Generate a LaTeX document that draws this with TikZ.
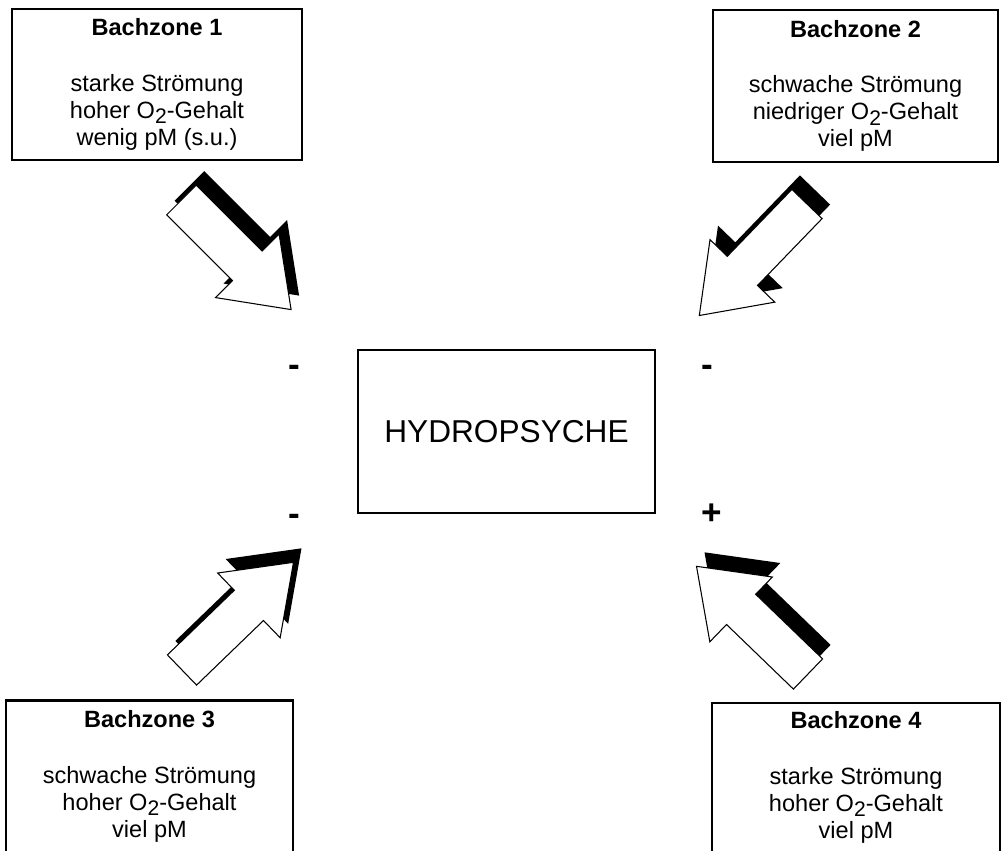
\documentclass[tikz,border=0pt]{standalone}
\usepackage{fontspec}
\setmainfont{Liberation Sans}
\usepackage{tikz}
\usetikzlibrary{positioning}

\newcommand{\Otwo}{O\raisebox{-0.45ex}{\fontsize{12}{12}\selectfont 2}}

\begin{document}
\begin{tikzpicture}[
    zonebox/.style={draw, line width=1.3pt, minimum width=5.8cm,
                    minimum height=3.02cm, align=center, inner sep=0pt,
                    font=\fontsize{13.4}{15.4}\selectfont},
    sign/.style={inner sep=0pt, font=\fontsize{20}{20}\selectfont\bfseries},
    flowarrow/.pic={
      % shadow
      \fill[black, shift={(0.16,0.28)}, rotate=#1]
        (0,0.42) -- (1.86,0.42) -- (1.86,0.9) -- (3.1,0) -- (1.86,-0.9)
        -- (1.86,-0.42) -- (0,-0.42) -- cycle;
      % white arrow
      \draw[fill=white, line width=0.6pt, rotate=#1]
        (0,0.42) -- (1.86,0.42) -- (1.86,0.9) -- (3.1,0) -- (1.86,-0.9)
        -- (1.86,-0.42) -- (0,-0.42) -- cycle;
    },
  ]
  \useasboundingbox (0,0) rectangle (20.02,17.02);

  \node[draw, line width=1.4pt, minimum width=5.94cm, minimum height=3.26cm,
        font=\fontsize{18}{18}\selectfont] (hydro) at (10.13,8.39) {HYDROPSYCHE};

  \node[zonebox] (zone1) at (3.14,15.33)
      {\textbf{Bachzone 1}\\[16pt]starke Strömung\\hoher \Otwo-Gehalt\\wenig pM (s.u.)};
  \node[zonebox, line width=1.6pt, minimum width=5.7cm, minimum height=3.04cm] (zone2) at (17.11,15.30)
      {\textbf{Bachzone 2}\\[16pt]schwache Strömung\\niedriger \Otwo-Gehalt\\viel pM};
  \node[zonebox, minimum width=5.74cm, minimum height=3.04cm] (zone3) at (2.99,1.49)
      {\textbf{Bachzone 3}\\[16pt]schwache Strömung\\hoher \Otwo-Gehalt\\viel pM};
  \node[zonebox, minimum width=5.76cm, minimum height=2.98cm] (zone4) at (17.12,1.47)
      {\textbf{Bachzone 4}\\[16pt]starke Strömung\\hoher \Otwo-Gehalt\\viel pM};

  % signs
  \node[sign] (s1) at ([xshift=-1.24cm,yshift=-0.44cm]hydro.north west) {-};
  \node[sign] (s2) at ([xshift=1.02cm,yshift=-0.44cm]hydro.north east) {-};
  \node[sign] (s3) at ([xshift=-1.24cm,yshift=-0.12cm]hydro.south west) {-};
  \node[sign] (s4) at ([xshift=1.12cm]hydro.south east) {+};

  % arrows
  \pic at (3.63,13.02) {flowarrow=-45};
  \pic at (16.14,12.94) {flowarrow=-134};
  \pic at (3.64,3.62) {flowarrow=44};
  \pic at (16.16,3.54) {flowarrow=136};

\end{tikzpicture}
\end{document}
